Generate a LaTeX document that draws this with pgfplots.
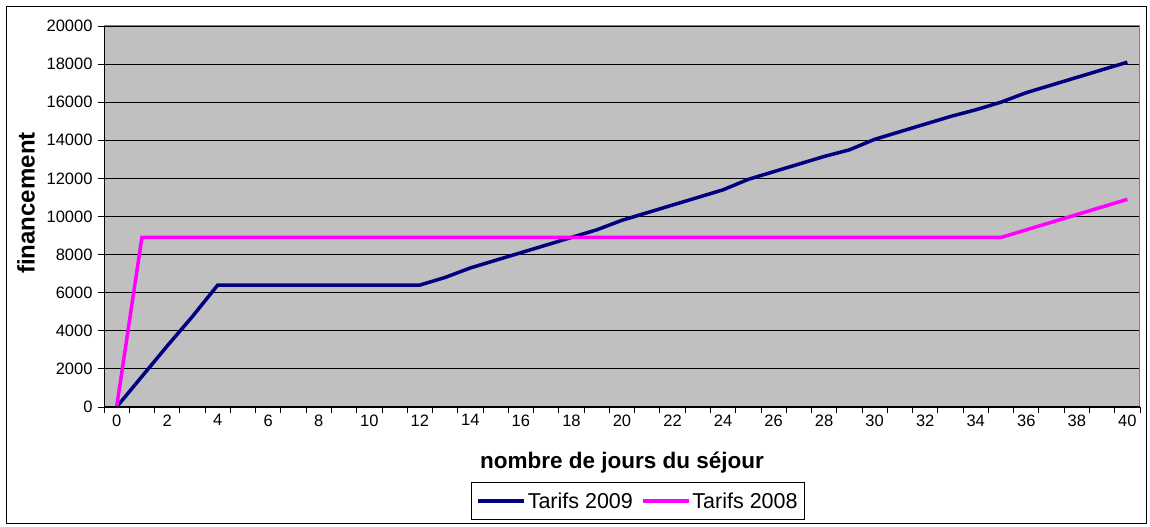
\documentclass[border=0pt]{standalone}
\usepackage{fontspec}
\setmainfont{Liberation Sans}
\usepackage{pgfplots}
\pgfplotsset{compat=1.18}
\definecolor{plotgray}{RGB}{192,192,192}
\definecolor{bordergray}{RGB}{128,128,128}
\definecolor{navyline}{RGB}{0,0,128}
\definecolor{pinkline}{RGB}{255,0,255}
\begin{document}
\begin{tikzpicture}[x=1bp,y=1bp]
\path (0,0) rectangle (1150,527);
\draw[black, line width=1bp] (6,3) rectangle (1146,520);
\begin{axis}[
  at={(104bp,120bp)}, anchor=south west,
  scale only axis, width=1036bp, height=381bp,
  xmin=-0.5, xmax=40.5, ymin=0, ymax=20000,
  axis background/.style={fill=plotgray},
  axis line style={draw=bordergray, line width=1bp},
  tick align=outside, xtick pos=bottom, ytick pos=left,
  major tick length=6bp,
  tick style={black, line width=0.8bp},
  xtick={-0.5,0.5,...,40.5}, xticklabels={},
  extra x ticks={0,2,...,40},
  extra x tick style={major tick length=0pt, grid=none, tick style={draw=none}},
  ytick={0,2000,...,20000},
  scaled y ticks=false,
  ymajorgrids, grid style={black, line width=0.8bp},
  /pgf/number format/.cd, 1000 sep={}, assume math mode=true, /pgfplots/.cd,
  ticklabel style={font=\fontsize{16.5bp}{18bp}\selectfont},
  xticklabel style={yshift=-4bp},
  yticklabel style={xshift=-2bp},
  xlabel={nombre de jours du séjour},
  ylabel={financement},
  xlabel style={font=\fontsize{22.5bp}{24bp}\selectfont\bfseries, at={(axis description cs:0.5,-0.147)}, anchor=center},
  ylabel style={font=\fontsize{24bp}{26bp}\selectfont\bfseries, at={(axis description cs:-0.0753,0.5354)}, anchor=center, rotate=0},
  legend style={at={(axis description cs:0.5154,-0.197)}, anchor=north,
    draw=black, fill=white, line width=0.8bp,
    font=\fontsize{21.5bp}{23bp}\selectfont, inner xsep=5bp, inner ysep=8bp,
    /tikz/every even column/.append style={column sep=6bp}},
  legend columns=2,
  legend image code/.code={\draw[#1, line width=3.5bp] (0bp,0bp) -- (46bp,0bp);},
]
\addplot[navyline, line width=3.5bp] coordinates {
(0,0) (1,1600) (2,3200) (3,4750) (4,6400) (5,6400) (6,6400) (7,6400) (8,6400)
(9,6400) (10,6400) (11,6400) (12,6400) (13,6800) (14,7300) (15,7700) (16,8100)
(17,8500) (18,8900) (19,9300) (20,9800) (21,10200) (22,10600) (23,11000)
(24,11400) (25,11950) (26,12350) (27,12750) (28,13150) (29,13500) (30,14050)
(31,14450) (32,14850) (33,15250) (34,15600) (35,16000) (36,16500) (37,16900)
(38,17300) (39,17700) (40,18100)};
\addlegendentry{Tarifs 2009}
\addplot[pinkline, line width=3.5bp] coordinates {
(0,0) (1,8900) (2,8900) (3,8900) (4,8900) (5,8900) (6,8900) (7,8900) (8,8900)
(9,8900) (10,8900) (11,8900) (12,8900) (13,8900) (14,8900) (15,8900) (16,8900)
(17,8900) (18,8900) (19,8900) (20,8900) (21,8900) (22,8900) (23,8900) (24,8900)
(25,8900) (26,8900) (27,8900) (28,8900) (29,8900) (30,8900) (31,8900) (32,8900)
(33,8900) (34,8900) (35,8900) (36,9300) (37,9700) (38,10100) (39,10500) (40,10900)};
\addlegendentry{Tarifs 2008}
\draw[black, line width=1bp] (rel axis cs:0,1) -- (rel axis cs:0,0) -- (rel axis cs:1,0);
\end{axis}
\end{tikzpicture}
\end{document}
